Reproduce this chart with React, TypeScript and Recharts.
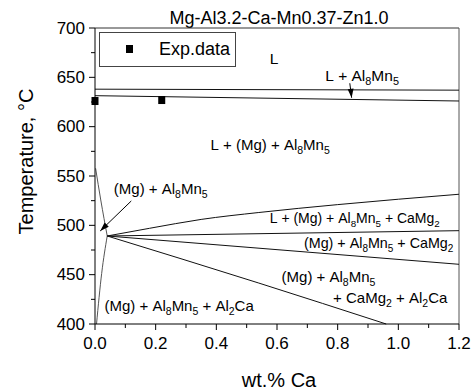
import React from 'react';
import {
  ComposedChart,
  Line,
  Scatter,
  XAxis,
  YAxis,
  ReferenceLine,
  ReferenceDot,
  Legend,
} from 'recharts';

const FONT = '"Liberation Sans", Arial, Helvetica, sans-serif';

const chartTitle = 'Mg-Al3.2-Ca-Mn0.37-Zn1.0';
const xLabel = 'wt.% Ca';
const yLabel = 'Temperature, °C';
const legendLabel = 'Exp.data';

const xTicks = [0, 0.1, 0.2, 0.3, 0.4, 0.5, 0.6, 0.7, 0.8, 0.9, 1.0, 1.1, 1.2];
const yTicks = [400, 425, 450, 475, 500, 525, 550, 575, 600, 625, 650, 675, 700];

// phase boundaries (wt.% Ca, temperature °C)
const liquidusCa = [0, 1.2];
const liquidusT = [638, 637];
const mgStartCa = [0, 1.2];
const mgStartT = [631.4, 626];
const leftUpperCa = [0.002, 0.019, 0.0403];
const leftUpperT = [557.8, 525.7, 489.2];
const leftLowerCa = [0.0403, 0.022, 0.005];
const leftLowerT = [489.2, 451.3, 400];
const camg2StartCa = [0.0403, 0.18, 0.35, 0.54, 0.8, 1.2];
const camg2StartT = [489.2, 497, 506, 513, 521, 531.5];
const solidusCa = [0.0403, 1.2];
const solidusT = [489.2, 494.6];
const al2caUpperCa = [0.0403, 1.2];
const al2caUpperT = [489.2, 460.5];
const al2caLowerCa = [0.0403, 0.54, 0.96];
const al2caLowerT = [489.2, 441.5, 400];

// experimental data
const expCa = [0, 0.22];
const expT = [626, 627];

const toPts = (xs: number[], ys: number[]) => xs.map((x, i) => ({ ca: x, t: ys[i] }));

const boundaries = [
  { id: 'liq', pts: toPts(liquidusCa, liquidusT), color: '#111' },
  { id: 'mg', pts: toPts(mgStartCa, mgStartT), color: '#111' },
  { id: 'lu', pts: toPts(leftUpperCa, leftUpperT), color: '#555' },
  { id: 'll', pts: toPts(leftLowerCa, leftLowerT), color: '#555' },
  { id: 'c1', pts: toPts(camg2StartCa, camg2StartT), color: '#111' },
  { id: 'c2', pts: toPts(solidusCa, solidusT), color: '#111' },
  { id: 'c3', pts: toPts(al2caUpperCa, al2caUpperT), color: '#111' },
  { id: 'c4', pts: toPts(al2caLowerCa, al2caLowerT), color: '#111' },
];

const expPts = toPts(expCa, expT);

// phase-field labels: [text, isSubscript]
type Part = [string, boolean];
const phaseLabels: { ca: number; t: number; size: number; parts: Part[] }[] = [
  { ca: 0.576, t: 663.2, size: 15.5, parts: [['L', false]] },
  { ca: 0.759, t: 646.3, size: 15.5, parts: [['L + Al', false], ['8', true], ['Mn', false], ['5', true]] },
  { ca: 0.381, t: 576.4, size: 15, parts: [['L + (Mg) + Al', false], ['8', true], ['Mn', false], ['5', true]] },
  { ca: 0.062, t: 531.8, size: 15, parts: [['(Mg) + Al', false], ['8', true], ['Mn', false], ['5', true]] },
  {
    ca: 0.576,
    t: 502,
    size: 14,
    parts: [['L + (Mg) + Al', false], ['8', true], ['Mn', false], ['5', true], [' + CaMg', false], ['2', true]],
  },
  {
    ca: 0.689,
    t: 476.7,
    size: 14.3,
    parts: [['(Mg) + Al', false], ['8', true], ['Mn', false], ['5', true], [' + CaMg', false], ['2', true]],
  },
  { ca: 0.615, t: 442.9, size: 15, parts: [['(Mg) + Al', false], ['8', true], ['Mn', false], ['5', true]] },
  { ca: 0.785, t: 421, size: 15, parts: [['+ CaMg', false], ['2', true], [' + Al', false], ['2', true], ['Ca', false]] },
  {
    ca: 0.0314,
    t: 413.2,
    size: 15,
    parts: [['(Mg) + Al', false], ['8', true], ['Mn', false], ['5', true], [' + Al', false], ['2', true], ['Ca', false]],
  },
];

// arrows: tail -> tip (data coords), head angle in screen degrees
const arrows = [
  { from: { x: 0.84, y: 644 }, to: { x: 0.846, y: 629.3 }, angle: 83.5 },
  { from: { x: 0.1196, y: 524.7 }, to: { x: 0.0172, y: 494.3 }, angle: 136 },
];

const PhaseText = (props: any) => {
  const { cx, cy, parts, size } = props;
  const sub = size * 0.7;
  let cur = 0;
  return (
    <text x={cx} y={cy} fontSize={size} fontFamily={FONT} fill="#000">
      {parts.map((p: Part, i: number) => {
        const target = p[1] ? 4 : 0;
        const dy = target - cur;
        cur = target;
        return (
          <tspan key={i} dy={dy} fontSize={p[1] ? sub : size}>
            {p[0].replace(/ /g, '\u00a0')}
          </tspan>
        );
      })}
    </text>
  );
};

const ArrowHead = (props: any) => {
  const { cx, cy, angle } = props;
  return (
    <polygon
      points="0,0 -9,-3 -9,3"
      fill="#000"
      transform={`translate(${cx},${cy}) rotate(${angle})`}
    />
  );
};

const XTick = (props: any) => {
  const { x, y, payload } = props;
  const v = payload.value as number;
  const major = Math.round(v * 10) % 2 === 0;
  return (
    <g>
      <line x1={x} y1={y} x2={x} y2={y + (major ? 6 : 4)} stroke="#000" />
      {major && (
        <text x={x} y={y + 25} textAnchor="middle" fontSize={17} fontFamily={FONT} fill="#000">
          {v.toFixed(1)}
        </text>
      )}
    </g>
  );
};

const YTick = (props: any) => {
  const { x, y, payload } = props;
  const v = payload.value as number;
  const major = v % 50 === 0;
  return (
    <g>
      <line x1={x} y1={y} x2={x - (major ? 6 : 4)} y2={y} stroke="#000" />
      {major && (
        <text x={x - 10} y={y + 5.5} textAnchor="end" fontSize={17} fontFamily={FONT} fill="#000">
          {v}
        </text>
      )}
    </g>
  );
};

const XLabel = (props: any) => {
  const vb = props.viewBox || { x: 95, y: 324, width: 364, height: 68 };
  return (
    <text x={vb.x + vb.width / 2 + 2} y={vb.y + 62.5} textAnchor="middle" fontSize={20} fontFamily={FONT} fill="#000">
      {xLabel}
    </text>
  );
};

const YLabel = (props: any) => {
  const vb = props.viewBox || { x: 0, y: 28, width: 95, height: 296 };
  const cx = 33;
  const cy = vb.y + vb.height / 2 - 14.5;
  return (
    <text
      x={cx}
      y={cy}
      textAnchor="middle"
      fontSize={20}
      fontFamily={FONT}
      fill="#000"
      transform={`rotate(-90, ${cx}, ${cy})`}
    >
      {yLabel}
    </text>
  );
};

const LegendBox = () => (
  <div
    style={{
      boxSizing: 'border-box',
      width: 137,
      height: 35,
      border: '1px solid #444',
      background: '#fff',
      position: 'relative',
      fontFamily: FONT,
    }}
  >
    <div
      style={{ position: 'absolute', left: 26, top: 12, width: 7, height: 8, background: '#000' }}
    />
    <div style={{ position: 'absolute', left: 59, top: 6, fontSize: 18, lineHeight: '20px', color: '#000' }}>
      {legendLabel}
    </div>
  </div>
);

export default function App() {
  return (
    <div style={{ position: 'absolute', left: 0, top: 0, width: 474, height: 392, background: '#fff' }}>
      <ComposedChart width={474} height={392} margin={{ top: 28, right: 15, bottom: 0, left: 0 }}>
        <XAxis
          dataKey="ca"
          type="number"
          domain={[0, 1.2]}
          ticks={xTicks}
          interval={0}
          height={68}
          tickSize={0}
          tickMargin={0}
          tick={<XTick />}
          axisLine={{ stroke: '#000' }}
          label={<XLabel />}
        />
        <YAxis
          dataKey="t"
          type="number"
          domain={[400, 700]}
          ticks={yTicks}
          interval={0}
          width={95}
          tickSize={0}
          tickMargin={0}
          tick={<YTick />}
          axisLine={{ stroke: '#000' }}
          label={<YLabel />}
        />
        <ReferenceLine y={700} stroke="#333" strokeWidth={1} />
        <ReferenceLine x={1.2} stroke="#555" strokeWidth={1} />
        {boundaries.map((b) => (
          <Line
            key={b.id}
            data={b.pts}
            dataKey="t"
            type="monotone"
            stroke={b.color}
            strokeWidth={1}
            dot={false}
            activeDot={false}
            isAnimationActive={false}
            legendType="none"
          />
        ))}
        <Scatter
          name={legendLabel}
          data={expPts}
          dataKey="t"
          fill="#000"
          isAnimationActive={false}
          shape={(p: any) => <rect x={p.cx - 3.5} y={p.cy - 4} width={7} height={8} fill="#000" />}
        />
        {arrows.map((a, i) => (
          <ReferenceLine key={`as${i}`} segment={[a.from, a.to]} stroke="#000" strokeWidth={1} />
        ))}
        {arrows.map((a, i) => (
          <ReferenceDot
            key={`ah${i}`}
            x={a.to.x}
            y={a.to.y}
            r={0}
            shape={(p: any) => <ArrowHead cx={p.cx} cy={p.cy} angle={a.angle} />}
          />
        ))}
        {phaseLabels.map((l, i) => (
          <ReferenceDot
            key={`pl${i}`}
            x={l.ca}
            y={l.t}
            r={0}
            shape={(p: any) => <PhaseText cx={p.cx} cy={p.cy} parts={l.parts} size={l.size} />}
          />
        ))}
        <Legend
          layout="vertical"
          align="center"
          verticalAlign="middle"
          wrapperStyle={{ left: 99, top: 32, width: 137, height: 35 }}
          content={() => <LegendBox />}
        />
        <text x={279} y={24} textAnchor="middle" fontSize={18} fontFamily={FONT} fill="#000">
          {chartTitle}
        </text>
      </ComposedChart>
    </div>
  );
}
